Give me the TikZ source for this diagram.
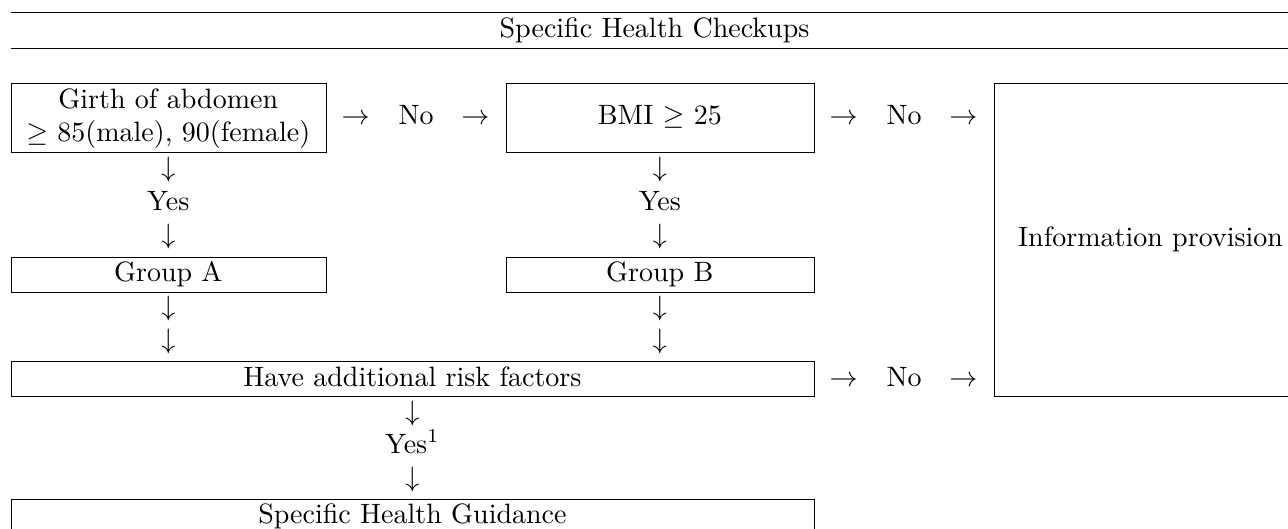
\documentclass[tikz,border=0pt]{standalone}
\usepackage{tikz}

\begin{document}
\begin{tikzpicture}[x=1pt,y=-1pt,line width=0.4pt,
  box/.style={draw,inner sep=0pt,anchor=north west},
  txt/.style={inner sep=0pt,anchor=base}]
\useasboundingbox (0,0) rectangle (460,188.57);
\clip (0,0) rectangle (460,188.57);
% rules round the heading
\draw (3.82,4.46) -- (470,4.46);
\draw (3.82,17.25) -- (470,17.25);
\node[txt] (head) at (233.75,13.4) {Specific Health Checkups};
% boxes
\node[box,minimum width=112.5pt,minimum height=24.55pt] (girth) at (3.82,29.75) {};
\node[box,minimum width=110.1pt,minimum height=24.55pt] (bmi) at (180.6,29.75) {};
\node[box,minimum width=115pt,minimum height=111.55pt] (info) at (355,29.75) {};
\node[box,minimum width=112.5pt,minimum height=12.5pt] (grpA) at (3.82,91.68) {};
\node[box,minimum width=110.1pt,minimum height=12.5pt] (grpB) at (180.6,91.68) {};
\node[box,minimum width=286.88pt,minimum height=12.4pt] (risk) at (3.82,128.9) {};
\node[box,minimum width=286.88pt,minimum height=12.4pt] (guide) at (3.82,178.2) {};
% texts in the boxes
\node[txt] (girthA) at (60.1,38.57) {Girth of abdomen};
\node[txt] (girthB) at (60.1,50.7) {$\geq$ 85(male), 90(female)};
\node[txt] (bmiT) at (235.65,44.4) {BMI $\geq$ 25};
\node[txt] (infoT) at (410.9,87.9) {Information provision};
\node[txt] (grpAT) at (60.1,100.7) {Group A};
\node[txt] (grpBT) at (235.65,100.7) {Group B};
\node[txt] (riskT) at (147.3,137.9) {Have additional risk factors};
\node[txt] (guideT) at (147.3,186.8) {Specific Health Guidance};
% the No rows
\node[txt] (topR1) at (127.0,44.4) {$\rightarrow$};
\node[txt] (topN1) at (148.6,44.4) {No};
\node[txt] (topR2) at (169.8,44.4) {$\rightarrow$};
\foreach \y/\n in {44.4/top,137.9/low}{
  \node[txt] (\n R3) at (301.3,\y) {$\rightarrow$};
  \node[txt] (\n N2) at (322.9,\y) {No};
  \node[txt] (\n R4) at (344.1,\y) {$\rightarrow$};
}
% the Yes columns
\foreach \x/\n in {60.1/A,235.65/B}{
  \node[txt] (d\n1) at (\x,63.0) {$\downarrow$};
  \node[txt] (yes\n) at (\x,75.0) {Yes};
  \node[txt] (d\n2) at (\x,87.1) {$\downarrow$};
  \node[txt] (d\n3) at (\x,112.7) {$\downarrow$};
  \node[txt] (d\n4) at (\x,124.6) {$\downarrow$};
}
\node[txt] (dR1) at (147.3,150.0) {$\downarrow$};
\node[txt] (yesR) at (147.3,161.8) {Yes$^1$};
\node[txt] (dR2) at (147.3,173.9) {$\downarrow$};
\end{tikzpicture}
\end{document}
